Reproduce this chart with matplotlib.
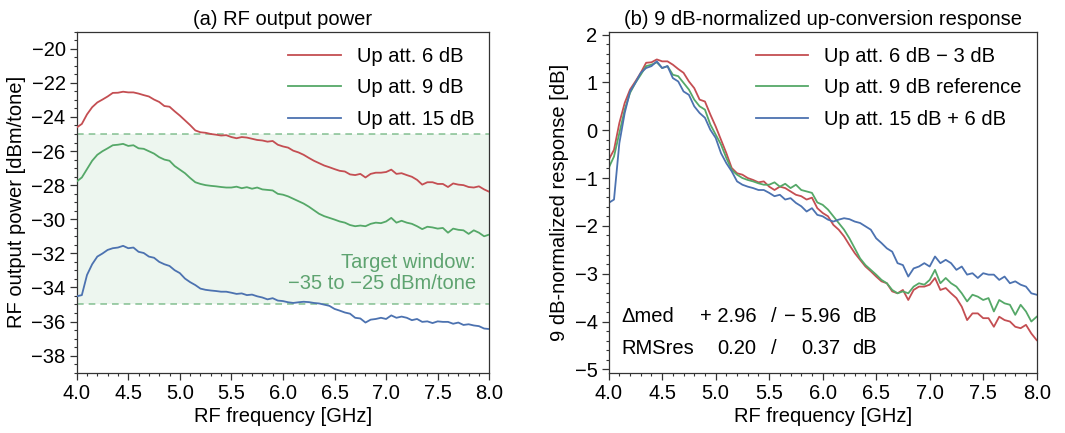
import numpy as np
import matplotlib
matplotlib.use("Agg")
import matplotlib.pyplot as plt
from matplotlib.ticker import MultipleLocator

FS = 14.5
plt.rcParams['font.family'] = ['Liberation Sans', 'DejaVu Sans']
plt.rcParams['font.size'] = FS

# ---------------- data ----------------
freq_ghz = np.round(np.arange(4.0, 8.0001, 0.05), 2)

# 9 dB-normalized response [dB] (panel b), per attenuation setting
resp_att6 = [
    -0.62, -0.41, 0.15, 0.57, 0.85, 1.02, 1.20, 1.41, 1.42, 1.48,
    1.44, 1.44, 1.37, 1.28, 1.20, 1.02, 0.88, 0.64, 0.60, 0.33,
    0.08, -0.20, -0.48, -0.79, -0.90, -0.93, -1.00, -1.04, -1.09, -1.07,
    -1.18, -1.25, -1.18, -1.21, -1.28, -1.35, -1.38, -1.45, -1.41, -1.63,
    -1.73, -1.80, -1.98, -2.08, -2.22, -2.40, -2.57, -2.71, -2.85, -2.95,
    -3.06, -3.16, -3.20, -3.37, -3.41, -3.34, -3.55, -3.34, -3.27, -3.27,
    -3.23, -3.09, -3.34, -3.30, -3.41, -3.51, -3.69, -3.97, -3.83, -3.83,
    -3.93, -3.93, -4.11, -3.90, -3.97, -4.00, -4.11, -4.14, -4.07, -4.25,
    -4.39]
resp_att9 = [
    -0.79, -0.55, -0.06, 0.43, 0.78, 0.99, 1.16, 1.34, 1.37, 1.42,
    1.30, 1.34, 1.16, 1.13, 0.99, 0.85, 0.64, 0.50, 0.43, 0.12,
    -0.09, -0.30, -0.58, -0.83, -0.93, -1.00, -1.04, -1.07, -1.11, -1.14,
    -1.14, -1.09, -1.18, -1.12, -1.21, -1.14, -1.25, -1.28, -1.31, -1.51,
    -1.56, -1.66, -1.80, -1.94, -2.08, -2.26, -2.47, -2.68, -2.82, -2.92,
    -3.02, -3.13, -3.20, -3.34, -3.41, -3.37, -3.41, -3.27, -3.20, -3.23,
    -3.13, -2.92, -3.20, -3.09, -3.20, -3.27, -3.41, -3.58, -3.44, -3.48,
    -3.55, -3.51, -3.79, -3.55, -3.62, -3.65, -3.86, -3.65, -3.79, -4.00,
    -3.90]
resp_att15 = [
    -1.52, -1.45, -0.27, 0.36, 0.81, 0.99, 1.20, 1.30, 1.34, 1.44,
    1.30, 1.34, 1.09, 1.02, 0.81, 0.74, 0.50, 0.36, 0.26, 0.01,
    -0.16, -0.48, -0.69, -0.86, -1.07, -1.14, -1.18, -1.21, -1.25, -1.25,
    -1.31, -1.38, -1.35, -1.45, -1.42, -1.52, -1.59, -1.70, -1.63, -1.77,
    -1.80, -1.87, -1.91, -1.87, -1.84, -1.86, -1.91, -1.94, -2.01, -2.08,
    -2.26, -2.36, -2.47, -2.54, -2.78, -2.82, -3.06, -2.89, -2.85, -2.78,
    -2.85, -2.64, -2.78, -2.71, -2.78, -2.92, -2.85, -3.02, -2.99, -3.09,
    -2.99, -3.02, -3.02, -3.13, -3.06, -3.20, -3.16, -3.23, -3.27, -3.41,
    -3.44]

ref_level_dbm = -27.0           # 9 dB reference level [dBm/tone]
att_shift_db = [3.0, 0.0, -6.0]  # nominal shift of each setting vs 9 dB

labels_a = ["Up att. 6 dB", "Up att. 9 dB", "Up att. 15 dB"]
labels_b = ["Up att. 6 dB \u2212 3 dB", "Up att. 9 dB reference", "Up att. 15 dB + 6 dB"]
colors = ["#C44E52", "#55A868", "#4C72B0"]

target_low, target_high = -35, -25

# ---------------- figure ----------------
fig = plt.figure(figsize=(10.65, 4.33), dpi=100)
ax1 = fig.add_axes([0.072, 0.1393, 0.3874, 0.7875])
ax2 = fig.add_axes([0.5715, 0.1393, 0.4019, 0.7875])

resp = [np.array(resp_att6), np.array(resp_att9), np.array(resp_att15)]

# panel (a)
ax1.axhspan(target_low, target_high, color="#55A868", alpha=0.10, lw=0, zorder=0)
for yv in (target_low, target_high):
    ax1.axhline(yv, color="#55A868", alpha=0.65, lw=1.2, ls=(0, (4, 3)), zorder=1)
for r, s, c, lab in zip(resp, att_shift_db, colors, labels_a):
    ax1.plot(freq_ghz, r + ref_level_dbm + s, color=c, lw=1.3, label=lab, zorder=3)
ax1.text(7.87, -33.15, "Target window:\n\u221235 to \u221225 dBm/tone", color="#4f9a62",
         alpha=0.9, ha="right", va="center", fontsize=FS, linespacing=1.1)
ax1.set_xlim(4.0, 8.0)
ax1.set_ylim(-39, -19)
ax1.yaxis.set_major_locator(MultipleLocator(2))
ax1.yaxis.set_minor_locator(MultipleLocator(0.5))
ax1.set_xlabel("RF frequency [GHz]", labelpad=3)
ax1.set_ylabel("RF output power [dBm/tone]")
ax1.set_title("(a) RF output power", fontsize=FS, pad=5)
ax1.legend(loc="upper right", frameon=False, handlelength=2.6, handletextpad=0.8,
           labelspacing=0.62, borderaxespad=0.35, fontsize=FS)

# panel (b)
for r, c, lab in zip(resp, colors, labels_b):
    ax2.plot(freq_ghz, r, color=c, lw=1.3, label=lab)
ax2.set_xlim(4.0, 8.0)
ax2.set_ylim(-5.07, 2.06)
ax2.yaxis.set_major_locator(MultipleLocator(1))
ax2.yaxis.set_minor_locator(MultipleLocator(0.2))
ax2.set_xlabel("RF frequency [GHz]", labelpad=3)
ax2.set_ylabel("9 dB-normalized response [dB]")
ax2.set_title("(b) 9 dB-normalized up-conversion response", fontsize=FS, pad=5)
ax2.legend(loc="upper right", frameon=False, handlelength=2.6, handletextpad=0.8,
           labelspacing=0.62, borderaxespad=0.35, fontsize=FS)

rows = [("\u0394med", "+ 2.96", "\u2212 5.96", 0.1645),
        ("RMSres", "0.20", "0.37", 0.0717)]
for name, v1, v2, yy in rows:
    ax2.text(0.0304, yy, name, transform=ax2.transAxes, ha="left", va="center")
    ax2.text(0.3458, yy, v1, transform=ax2.transAxes, ha="right", va="center")
    ax2.text(0.386, yy, "/", transform=ax2.transAxes, ha="center", va="center")
    ax2.text(0.542, yy, v2, transform=ax2.transAxes, ha="right", va="center")
    ax2.text(0.568, yy, "dB", transform=ax2.transAxes, ha="left", va="center")

for ax in (ax1, ax2):
    ax.xaxis.set_major_locator(MultipleLocator(0.5))
    ax.xaxis.set_minor_locator(MultipleLocator(0.1))
    ax.xaxis.set_major_formatter(matplotlib.ticker.FormatStrFormatter("%.1f"))
    ax.tick_params(which="both", direction="out", top=False, right=False,
                   colors="#333333", labelcolor="black", labelsize=FS)
    ax.tick_params(which="major", length=5, width=0.9, pad=3)
    ax.tick_params(which="minor", length=2.5, width=0.8)
    for sp in ax.spines.values():
        sp.set_color("#333333")
        sp.set_linewidth(0.9)

fig.savefig("out.png", dpi=100)
